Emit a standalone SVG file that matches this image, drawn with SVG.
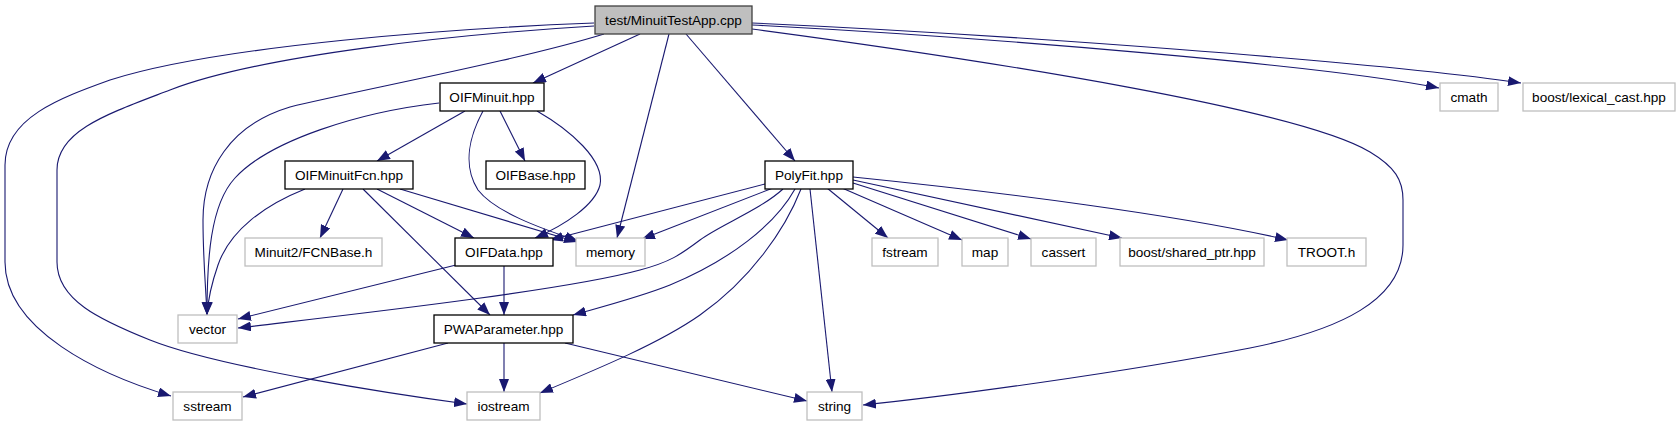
<svg xmlns="http://www.w3.org/2000/svg" width="1680" height="427" viewBox="0 0 1680 427">
<defs>
<style>
.n rect{fill:#ffffff;stroke:#000000;stroke-width:1.3}
.n.x rect{stroke:#bfbfbf}
.n.root rect{fill:#bfbfbf;stroke:#404040}
.n text{font-family:"Liberation Sans",Arial,Helvetica,sans-serif;font-size:13.6px;fill:#000000;text-anchor:middle}
#edges path{fill:none;stroke:#191970;stroke-width:1.1;marker-end:url(#ah)}
</style>
<marker id="ah" markerWidth="13" markerHeight="10" refX="13" refY="5" orient="auto" markerUnits="userSpaceOnUse"><path d="M0,0 L13,5 L0,10 z" fill="#191970"/></marker>
</defs>
<rect width="1680" height="427" fill="#ffffff"/>
<g id="edges">
<path d="M594,23 C460,28 220,45 110,80 C60,98 5,118 5,165 L5,262 C5,330 100,375 171,396"/>
<path d="M594,26 C460,34 260,55 170,90 C110,113 57,130 57,170 L57,262 C57,300 100,320 150,340 C220,368 400,395 467,404"/>
<path d="M604,34 C520,60 360,90 290,107 C230,125 203,170 203,220 C203,260 206,290 207,315"/>
<path d="M640,34 L533,83"/>
<path d="M669,34 L617,238"/>
<path d="M686,34 L795,161"/>
<path d="M752,25 C1000,38 1330,66 1439,88"/>
<path d="M752,23 C1000,34 1380,62 1521,83"/>
<path d="M752,29 C1000,62 1300,110 1370,152 C1395,167 1403,180 1403,200 L1403,245 C1403,300 1340,330 1250,348 C1120,373 950,396 863,405"/>
<path d="M465,111 L377,161"/>
<path d="M439,103 C360,112 270,140 235,178 C210,205 207,260 207,315"/>
<path d="M500,111 L525,161"/>
<path d="M483,111 C470,135 462,165 478,190 C495,212 540,228 578,241"/>
<path d="M537,111 C570,130 605,160 600,185 C595,205 565,225 535,238"/>
<path d="M305,189 C265,205 230,230 218,265 C211,285 208,300 207,315"/>
<path d="M343,189 L320,238"/>
<path d="M363,189 L490,315"/>
<path d="M377,189 L474,238"/>
<path d="M400,189 L577,242"/>
<path d="M765,184 L550,240"/>
<path d="M773,188 L642,239"/>
<path d="M783,189 C760,210 720,225 700,240 C680,255 670,262 640,270 C560,292 320,318 238,328"/>
<path d="M795,189 C775,225 730,260 670,285 C640,297 605,306 573,315"/>
<path d="M801,189 C785,230 750,280 700,315 C660,343 600,368 540,393"/>
<path d="M810,189 L832,392"/>
<path d="M827,188 L888,238"/>
<path d="M842,188 L962,240"/>
<path d="M853,183 L1031,239"/>
<path d="M853,180 L1122,238"/>
<path d="M853,177 C1000,192 1180,215 1288,240"/>
<path d="M456,265 L238,319"/>
<path d="M504,266 L504,315"/>
<path d="M448,343 L243,397"/>
<path d="M504,343 L504,392"/>
<path d="M565,343 L807,401"/>
</g>
<g id="n-app" class="n root"><rect x="595" y="6" width="157" height="28"/><text x="673.5" y="24.5">test/MinuitTestApp.cpp</text></g>
<g id="n-oifminuit" class="n"><rect x="440" y="83" width="104" height="28"/><text x="492" y="101.5">OIFMinuit.hpp</text></g>
<g id="n-oifminuitfcn" class="n"><rect x="285" y="161" width="128" height="28"/><text x="349" y="179.5">OIFMinuitFcn.hpp</text></g>
<g id="n-oifbase" class="n"><rect x="486" y="161" width="99" height="28"/><text x="535.5" y="179.5">OIFBase.hpp</text></g>
<g id="n-polyfit" class="n"><rect x="765" y="161" width="88" height="28"/><text x="809" y="179.5">PolyFit.hpp</text></g>
<g id="n-cmath" class="n x"><rect x="1440" y="83" width="58" height="28"/><text x="1469" y="101.5">cmath</text></g>
<g id="n-lexical" class="n x"><rect x="1523" y="83" width="152" height="28"/><text x="1599" y="101.5">boost/lexical_cast.hpp</text></g>
<g id="n-fcnbase" class="n x"><rect x="245" y="238" width="137" height="28"/><text x="313.5" y="256.5">Minuit2/FCNBase.h</text></g>
<g id="n-oifdata" class="n"><rect x="455" y="238" width="98" height="28"/><text x="504" y="256.5">OIFData.hpp</text></g>
<g id="n-memory" class="n x"><rect x="576" y="238" width="69" height="28"/><text x="610.5" y="256.5">memory</text></g>
<g id="n-fstream" class="n x"><rect x="872" y="238" width="66" height="28"/><text x="905" y="256.5">fstream</text></g>
<g id="n-map" class="n x"><rect x="962" y="238" width="46" height="28"/><text x="985" y="256.5">map</text></g>
<g id="n-cassert" class="n x"><rect x="1031" y="238" width="65" height="28"/><text x="1063.5" y="256.5">cassert</text></g>
<g id="n-sharedptr" class="n x"><rect x="1120" y="238" width="144" height="28"/><text x="1192" y="256.5">boost/shared_ptr.hpp</text></g>
<g id="n-troot" class="n x"><rect x="1287" y="238" width="79" height="28"/><text x="1326.5" y="256.5">TROOT.h</text></g>
<g id="n-vector" class="n x"><rect x="178" y="315" width="59" height="28"/><text x="207.5" y="333.5">vector</text></g>
<g id="n-pwaparameter" class="n"><rect x="434" y="315" width="139" height="28"/><text x="503.5" y="333.5">PWAParameter.hpp</text></g>
<g id="n-sstream" class="n x"><rect x="173" y="392" width="69" height="28"/><text x="207.5" y="410.5">sstream</text></g>
<g id="n-iostream" class="n x"><rect x="467" y="392" width="73" height="28"/><text x="503.5" y="410.5">iostream</text></g>
<g id="n-string" class="n x"><rect x="807" y="392" width="55" height="28"/><text x="834.5" y="410.5">string</text></g>
</svg>
